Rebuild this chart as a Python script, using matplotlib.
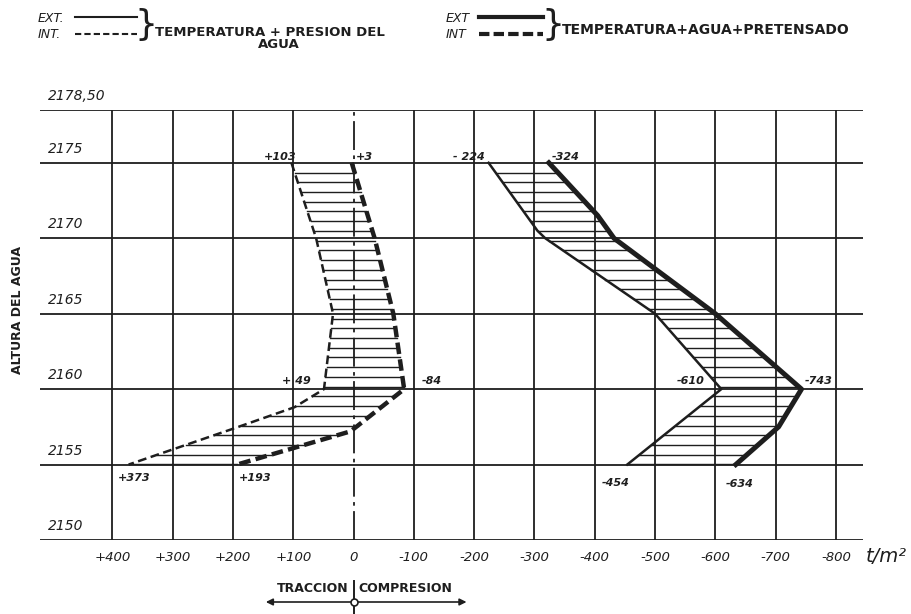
import numpy as np
import matplotlib.pyplot as plt
from matplotlib.lines import Line2D
import matplotlib.transforms as mtransforms

# Cotas (m) y tensiones (t/m2); positivo = traccion, negativo = compresion
# Paramento interior, temperatura + presion del agua
int_agua_z = [2175, 2170, 2165, 2160, 2158.8, 2157.4, 2155]
int_agua_s = [103, 62, 34, 49, 98, 198, 373]
# Paramento interior, temperatura + agua + pretensado
int_pret_z = [2175, 2170, 2165, 2160, 2157.2, 2155]
int_pret_s = [3, -35, -66, -84, 5, 193]
# Paramento exterior, temperatura + presion del agua
ext_agua_z = [2175, 2170.5, 2170, 2165, 2160, 2155]
ext_agua_s = [-224, -305, -318, -500, -610, -454]
# Paramento exterior, temperatura + agua + pretensado
ext_pret_z = [2175, 2171.5, 2170, 2165, 2160, 2157.5, 2155]
ext_pret_s = [-324, -405, -432, -600, -743, -705, -634]

# valores acotados: (tension, cota, texto)
cotas_int = [(103, 2175, '+103'), (3, 2175, '+3'), (49, 2160, '+ 49'),
             (-84, 2160, '-84'), (373, 2155, '+373'), (193, 2155, '+193')]
cotas_ext = [(-224, 2175, '- 224'), (-324, 2175, '-324'), (-610, 2160, '-610'),
             (-743, 2160, '-743'), (-454, 2155, '-454'), (-634, 2155, '-634')]

x_ticks = [400, 300, 200, 100, 0, -100, -200, -300, -400, -500, -600, -700, -800]
x_labels = ['+400', '+300', '+200', '+100', '0', '-100', '-200', '-300',
            '-400', '-500', '-600', '-700', '-800']
y_lines = [2150, 2155, 2160, 2165, 2170, 2175, 2178.5]
y_labels = ['2150', '2155', '2160', '2165', '2170', '2175', '2178,50']

INK = '#1e1e1e'
W, H = 912, 614

fig = plt.figure(figsize=(W / 100, H / 100), dpi=100)
fig.patch.set_facecolor('white')
ax = fig.add_axes([40 / W, 1 - 540 / H, 823 / W, 430 / H])
ax.set_xlim(520, -845)
ax.set_ylim(2150, 2178.5)
for s in ax.spines.values():
    s.set_visible(False)
ax.set_yticks([])
ax.set_xticks(x_ticks)
ax.set_xticklabels(x_labels, fontsize=9.5, style='italic', color=INK)
ax.tick_params(axis='x', length=0, pad=8)

# reticula
for y in y_lines:
    ax.axhline(y, color=INK, lw=1.3, zorder=1)
for x in x_ticks:
    if x == 0:
        continue
    ax.axvline(x, color=INK, lw=1.3, zorder=1)
ax.plot([0, 0], [2150, 2178.5], color=INK, lw=1.3, dashes=(16, 3, 2, 3), zorder=1)

# etiquetas de cota, encima de cada linea
ylab = mtransforms.blended_transform_factory(ax.transAxes, ax.transData)
for y, t in zip(y_lines, y_labels):
    ax.text(0.01, y + 0.45, t, transform=ylab, fontsize=10, style='italic',
            color=INK, ha='left', va='bottom')
fig.text(18 / W, 1 - 310 / H, 'ALTURA DEL AGUA', rotation=90, fontsize=9,
         fontweight='bold', color=INK, ha='center', va='center')
fig.text(866 / W, 1 - 556 / H, 't/m²', fontsize=14, style='italic',
         color=INK, ha='left', va='center')


def rayado(ax, za, sa, zb, sb):
    # lineas horizontales entre las dos leyes de tensiones
    za, sa, zb, sb = za[::-1], sa[::-1], zb[::-1], sb[::-1]
    for h in np.arange(2175, 2155, -0.645)[1:]:
        xa = np.interp(h, za, sa)
        xb = np.interp(h, zb, sb)
        ax.plot([xa, xb], [h, h], color=INK, lw=1.0, zorder=2)


rayado(ax, int_agua_z, int_agua_s, int_pret_z, int_pret_s)
rayado(ax, ext_agua_z, ext_agua_s, ext_pret_z, ext_pret_s)

ax.plot(int_agua_s, int_agua_z, color=INK, lw=1.8, dashes=(3.5, 1.8), zorder=3)
ax.plot(int_pret_s, int_pret_z, color=INK, lw=3.2, dashes=(2.6, 1.2), zorder=3)
ax.plot(ext_agua_s, ext_agua_z, color=INK, lw=1.8, zorder=3)
ax.plot(ext_pret_s, ext_pret_z, color=INK, lw=3.6, zorder=3)

# desplazamientos de cada rotulo (puntos)
offs = {'+103': (-8, 4), '+3': (9, 4), '+ 49': (-20, 6), '-84': (20, 6),
        '+373': (4, -10), '+193': (13, -10), '- 224': (-14, 4), '-324': (12, 4),
        '-610': (-22, 6), '-743': (12, 6), '-454': (-8, -13), '-634': (3, -14)}
for sv, z, t in cotas_int + cotas_ext:
    ax.annotate(t, (sv, z), xytext=offs[t], textcoords='offset points',
                fontsize=8, style='italic', fontweight='bold', color=INK,
                ha='center', va='center')


# leyenda superior
def fpx(x, y):
    return x / W, 1 - y / H


for (x0, x1, y, lw, dsh) in [(75, 137, 17, 1.5, None), (75, 137, 34, 1.5, (3, 1.5)),
                             (479, 543, 17, 3.0, None), (479, 543, 34, 3.0, (2.5, 1))]:
    ln = Line2D([x0 / W, x1 / W], [1 - y / H, 1 - y / H], color=INK, lw=lw,
                transform=fig.transFigure)
    if dsh:
        ln.set_dashes(dsh)
    fig.add_artist(ln)

fig.text(*fpx(38, 18), 'EXT.', fontsize=9, style='italic', color=INK, va='center')
fig.text(*fpx(38, 35), 'INT.', fontsize=9, style='italic', color=INK, va='center')
fig.text(*fpx(446, 18), 'EXT', fontsize=9, style='italic', color=INK, va='center')
fig.text(*fpx(446, 35), 'INT', fontsize=9, style='italic', color=INK, va='center')
fig.text(*fpx(146, 25), '}', fontsize=26, color=INK, ha='center', va='center')
fig.text(*fpx(553, 25), '}', fontsize=26, color=INK, ha='center', va='center')
fig.text(*fpx(155, 32), 'TEMPERATURA + PRESION DEL', fontsize=9.5, color=INK,
         fontweight='bold', va='center', ha='left')
fig.text(*fpx(279, 44), 'AGUA', fontsize=9.5, color=INK, fontweight='bold',
         va='center', ha='center')
fig.text(*fpx(562, 30), 'TEMPERATURA+AGUA+PRETENSADO', fontsize=10, color=INK,
         fontweight='bold', va='center', ha='left')

# convenio de signos bajo el eje
bt = mtransforms.blended_transform_factory(ax.transData, fig.transFigure)
yb = 1 - 602 / H
ax.annotate('', xy=(150, yb), xytext=(0, yb), xycoords=bt, textcoords=bt,
            arrowprops=dict(arrowstyle='-|>', color=INK, lw=1.2, mutation_scale=10))
ax.annotate('', xy=(-192, yb), xytext=(0, yb), xycoords=bt, textcoords=bt,
            arrowprops=dict(arrowstyle='-|>', color=INK, lw=1.2, mutation_scale=10))
ax.plot([0, 0], [1 - 581 / H, 0], transform=bt, color=INK, lw=1.4, clip_on=False)
ax.plot([0], [yb], transform=bt, marker='o', ms=5, mfc='white', mec=INK,
        mew=1.2, clip_on=False, zorder=5)
ax.text(8, 1 - 589 / H, 'TRACCION', transform=bt, fontsize=9, color=INK,
        fontweight='bold', ha='right', va='center')
ax.text(-8, 1 - 589 / H, 'COMPRESION', transform=bt, fontsize=9, color=INK,
        fontweight='bold', ha='left', va='center')

fig.savefig('out.png', dpi=100)
